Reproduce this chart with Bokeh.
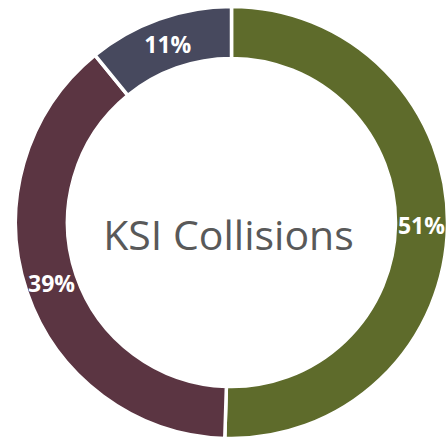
import math
from bokeh.plotting import figure
from bokeh.models import ColumnDataSource, Range1d
from bokeh.core.properties import value
from bokeh.embed import file_html
from bokeh.resources import INLINE

# Data
categories = ["A", "B", "C"]
shares = [51, 39, 11]
labels = ["51%", "39%", "11%"]
colors = ["#5E6B2B", "#5B3542", "#47495E"]
center_title = "KSI Collisions"

W, H = 447, 440
p = figure(width=W, height=H, output_backend="svg", toolbar_location=None,
           x_range=Range1d(0, W), y_range=Range1d(0, H), min_border=0)
p.axis.visible = False
p.grid.visible = False
p.outline_line_color = None
p.background_fill_color = "white"
p.border_fill_color = "white"

cx, cy = 231, H - 222
r_out, r_in = 216, 164

total = float(sum(shares))
starts, ends, lx, ly = [], [], [], []
acc = 0.0
for s in shares:
    a0 = math.pi / 2 - 2 * math.pi * acc / total
    acc += s
    a1 = math.pi / 2 - 2 * math.pi * acc / total
    starts.append(a0)
    ends.append(a1)
    mid = (a0 + a1) / 2
    rm = (r_in + r_out) / 2
    lx.append(cx + rm * math.cos(mid))
    ly.append(cy + rm * math.sin(mid))

src = ColumnDataSource(dict(cat=categories, start=starts, end=ends, color=colors,
                            lx=lx, ly=ly, label=labels))
p.annular_wedge(x=cx, y=cy, inner_radius=r_in, outer_radius=r_out,
                start_angle="start", end_angle="end", direction="clock",
                fill_color="color", line_color="white", line_width=3.5, source=src)

p.text(x="lx", y="ly", text="label", source=src, text_color="white",
       text_font=value("Open Sans"), text_font_style="bold", text_font_size="23px",
       text_align="center", text_baseline="middle")

p.text(x=[228], y=[H - 233], text=[center_title], text_color="#595959",
       text_font=value("Open Sans"), text_font_size="41px",
       text_align="center", text_baseline="middle")

open("out.html", "w").write(file_html(p, INLINE))
